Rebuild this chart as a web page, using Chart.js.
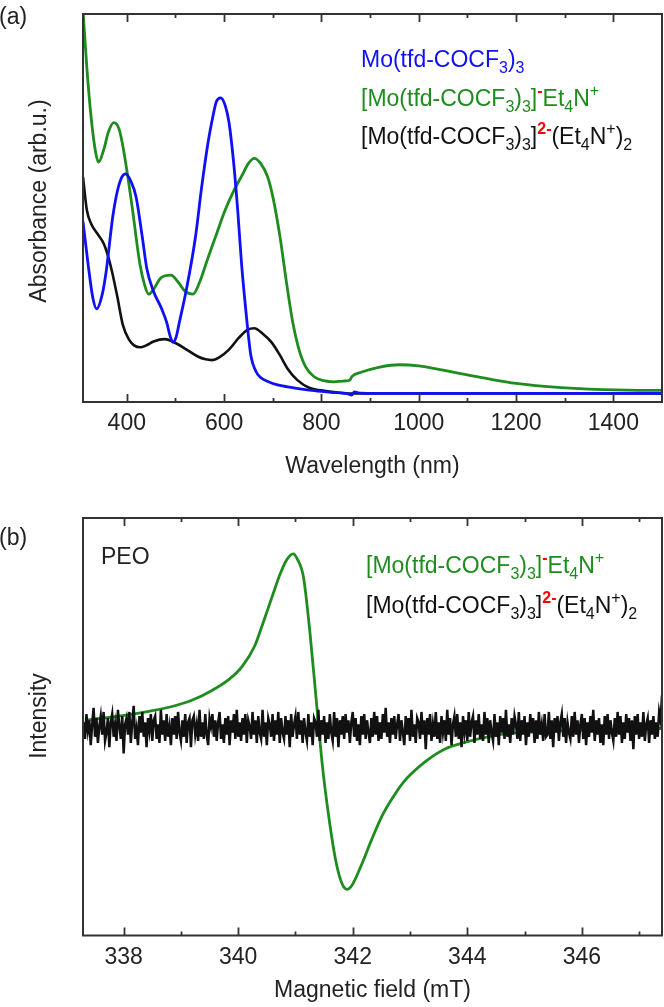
<!DOCTYPE html>
<html>
<head>
<meta charset="utf-8">
<script src="https://cdn.jsdelivr.net/npm/chart.js@4.4.1/dist/chart.umd.min.js"></script>
<style>
  html, body { margin: 0; padding: 0; background: #fff; }
  #wrap { position: relative; width: 664px; height: 1007px; }
  canvas { position: absolute; left: 0; }
  #uv { top: 0; width: 664px; height: 490px; }
  #epr { top: 490px; width: 664px; height: 517px; }
</style>
</head>
<body>
<div id="wrap">
  <canvas id="uv" width="664" height="490"></canvas>
  <canvas id="epr" width="664" height="517"></canvas>
</div>
<script>
// ---- (a) absorption spectra, arb. units (0 = bottom frame, 100 = top frame)
const neutralNm  = [310, 320, 330, 338, 350, 358, 371, 380, 390, 398, 408, 419, 432, 441, 454, 471, 482, 489, 495, 501, 508, 523, 541, 554, 567, 576, 584, 593, 602, 610, 619, 628, 636, 645, 655, 665, 675, 690, 710, 740, 780, 820, 855, 862, 868, 880, 950, 1100, 1300, 1500];
const neutralAbs = [46.5, 36, 27, 24, 28, 34, 47.6, 54, 58, 58.8, 57, 52.9, 42.4, 34.5, 28.8, 24.2, 20.5, 17, 15.4, 16.6, 20.5, 29.3, 42.4, 55.5, 66.9, 73, 77.4, 78.4, 76.5, 72.1, 62.5, 49.4, 35.4, 23.2, 12, 8, 6.3, 5.3, 4.4, 3.7, 3.0, 2.5, 2.1, 1.8, 2.6, 2.3, 2.2, 2.2, 2.2, 2.2];

const monoNm  = [310, 318, 327, 336, 342, 353, 362, 373, 384, 393, 410, 427, 437, 445, 455, 470, 491, 505, 520, 536, 550, 567, 585, 602, 620, 636, 650, 662, 675, 689, 700, 715, 728, 741, 754, 767, 785, 805, 825, 845, 858, 863, 880, 920, 960, 1000, 1050, 1100, 1150, 1200, 1293, 1350, 1450, 1500];
const monoAbs = [101, 86, 73, 64.3, 61.8, 65.2, 69.5, 72, 70.4, 65.2, 51.2, 35.5, 30, 27.8, 29, 32, 32.7, 31, 28.5, 27.8, 31, 37.2, 43.5, 49.4, 54.5, 58.2, 61.5, 62.8, 61.5, 58.2, 53, 42.5, 31, 20.6, 13.5, 9.2, 6.5, 5.5, 5.2, 5.4, 5.6, 6.6, 7.6, 9.0, 9.6, 9.3, 8.2, 7.0, 5.8, 4.8, 3.7, 3.3, 3.0, 3.0];

const diNm  = [310, 318, 327, 340, 353, 366, 380, 392, 405, 415, 428, 440, 455, 478, 500, 523, 545, 562, 575, 590, 610, 630, 648, 662, 680, 698, 715, 732, 750, 776, 800, 830, 855, 900, 1100, 1300, 1500];
const diAbs = [58, 49.4, 45.9, 43.3, 40.7, 35.5, 27.5, 19.8, 16, 14.6, 14.1, 14.6, 15.6, 16.2, 15.2, 13.5, 11.8, 11, 10.8, 11.5, 13.5, 16.5, 18.6, 19, 17.5, 15.3, 12, 8.3, 5.7, 3.6, 3.0, 2.5, 2.2, 2.2, 2.2, 2.2, 2.2];

const waveTicks = [400, 600, 800, 1000, 1200, 1400];
const waveMinor = [500, 700, 900, 1100, 1300];

// ---- (b) EPR, first derivative, arb. units
const eprMonoField = [337.33, 337.70, 338.07, 338.44, 338.81, 339.18, 339.55, 339.84, 340.07, 340.29, 340.44, 340.59, 340.73, 340.84, 340.96, 341.03, 341.14, 341.25, 341.36, 341.47, 341.58, 341.70, 341.81, 341.90, 341.99, 342.14, 342.33, 342.51, 342.70, 342.88, 343.25, 343.62, 343.99, 344.36, 344.73, 345.47, 346.21, 347.40];
const eprMonoInt   = [0.041, 0.052, 0.066, 0.083, 0.104, 0.135, 0.185, 0.237, 0.300, 0.400, 0.515, 0.635, 0.745, 0.812, 0.844, 0.82, 0.731, 0.471, 0.146, -0.179, -0.423, -0.634, -0.748, -0.777, -0.756, -0.667, -0.537, -0.423, -0.333, -0.261, -0.164, -0.098, -0.065, -0.041, -0.024, -0.013, -0.007, 0.0];

// dianion trace: flat noise, sampled every 0.025 mT from 337.30 mT
const eprDiStart = 337.30;
const eprDiStep = 0.025;
const eprDiInt = [
  0.03, -0.05, 0.07, -0.01, 0.04, -0.08, 0.02, 0.10, -0.04, 0.05, -0.07, 0.01, 0.06, -0.03, 0.08, -0.06, -0.02, 0.05, -0.09, 0.03,
  0.07, -0.04, 0.02, -0.06, 0.09, 0.01, -0.05, 0.06, -0.12, 0.02, 0.05, -0.03, 0.08, -0.07, 0.03, 0.11, -0.05, 0.00, -0.08, 0.06,
  -0.02, 0.08, -0.04, 0.03, -0.09, 0.05, -0.01, 0.07, -0.06, 0.04, 0.06, -0.05, 0.02, -0.07, 0.09, -0.03, 0.04, -0.06, 0.07, -0.04,
  0.01, -0.08, 0.05, -0.03, 0.06, -0.05, 0.08, -0.02, -0.06, 0.04, -0.04, 0.07, -0.07, 0.03, 0.05, -0.09, 0.04, 0.06, -0.03, 0.02,
  -0.06, 0.09, -0.04, 0.03, -0.05, 0.07, -0.03, -0.08, 0.05, 0.01, 0.07, -0.04, 0.04, -0.06, 0.03, 0.08, -0.05, 0.02, -0.07, 0.05,
  -0.03, 0.06, -0.08, 0.04, -0.02, 0.07, -0.05, 0.09, -0.04, 0.03, -0.06, 0.05, -0.03, 0.07, -0.07, 0.04, 0.01, -0.05, 0.08, -0.03,
  0.04, -0.07, 0.06, -0.02, -0.05, 0.09, -0.04, 0.03, -0.08, 0.05, 0.02, -0.04, 0.07, -0.06, 0.04, -0.03, 0.08, -0.07, 0.05, -0.02,
  -0.05, 0.06, -0.03, 0.04, -0.09, 0.07, -0.04, 0.02, 0.06, -0.05, 0.08, -0.03, 0.04, -0.07, 0.05, -0.02, -0.06, 0.07, -0.04, 0.03,
  -0.08, 0.05, 0.03, -0.04, 0.09, -0.06, 0.04, -0.03, 0.06, -0.07, 0.03, -0.05, 0.07, -0.02, -0.06, 0.08, -0.04, 0.05, -0.09, 0.04,
  -0.03, 0.06, -0.05, 0.07, -0.02, 0.04, -0.07, 0.03, 0.08, -0.04, 0.05, -0.06, 0.02, -0.08, 0.06, -0.03, 0.07, -0.05, 0.04, -0.02,
  -0.07, 0.05, -0.04, 0.08, -0.03, 0.06, -0.06, 0.03, -0.05, 0.07, -0.02, 0.10, -0.04, 0.03, -0.07, 0.05, -0.03, 0.06, -0.05, 0.02,
  0.07, -0.06, 0.04, -0.02, -0.08, 0.06, -0.03, 0.05, -0.06, 0.09, -0.04, 0.02, -0.07, 0.05, 0.03, -0.05, 0.08, -0.03, 0.04, -0.10,
  0.05, -0.03, 0.07, -0.06, 0.02, -0.04, 0.08, -0.05, 0.03, -0.07, 0.06, -0.02, 0.04, -0.06, 0.09, -0.03, 0.05, -0.08, 0.02, 0.06,
  -0.04, 0.07, -0.05, 0.03, -0.09, 0.06, -0.02, 0.04, -0.06, 0.08, -0.04, 0.03, 0.06, -0.07, 0.04, -0.03, 0.07, -0.05, 0.02, -0.06,
  0.08, -0.03, 0.05, -0.07, 0.04, -0.02, -0.06, 0.07, -0.04, 0.03, -0.08, 0.06, -0.02, 0.05, -0.05, 0.09, -0.04, 0.02, -0.07, 0.05,
  -0.03, 0.06, 0.02, -0.05, 0.08, -0.06, 0.04, -0.03, 0.06, -0.08, 0.03, -0.04, 0.07, -0.02, 0.05, -0.07, 0.04, -0.05, 0.08, -0.03,
  0.02, -0.06, 0.07, -0.04, -0.03, 0.08, -0.05, 0.04, -0.09, 0.05, -0.02, 0.06, -0.06, 0.03, 0.07, -0.04, 0.05, -0.07, 0.03, -0.02,
  -0.05, 0.06, -0.04, 0.08, -0.03, 0.04, -0.07, 0.02, 0.07, -0.05, 0.05, -0.08, 0.03, -0.04, 0.06, -0.02, 0.09, -0.06, 0.04, -0.03,
  0.05, -0.07, 0.02, -0.08, 0.06, -0.03, 0.07, -0.05, 0.04, -0.02, -0.06, 0.05, -0.04, 0.08, -0.03, 0.06, -0.07, 0.03, -0.05, 0.07,
  -0.02, 0.05, -0.06, 0.04, -0.10, 0.06, -0.03, 0.07, -0.05, 0.03, -0.04, 0.08, -0.06, 0.02, 0.05, -0.07, 0.04, -0.03, 0.06, -0.05,
  0.03, -0.04, 0.08, 0.04, 0.16
];

const fieldTicks = [338, 340, 342, 344, 346];
const fieldMinor = [339, 341, 343, 345, 347];

const BLUE = '#1010f5';
const GREEN = '#1f8c1f';
const BLACK = '#111111';
const RED = '#ff0000';
const TXT = '#222222';
const FONT = '"Liberation Sans", Arial, sans-serif';

function pts(xs, ys) {
  return xs.map((x, i) => ({ x: x, y: ys[i] }));
}

// rich text (sub / superscripts)
function drawRich(ctx, x, y, segs) {
  ctx.textBaseline = 'alphabetic';
  ctx.textAlign = 'left';
  for (const s of segs) {
    const small = s.k === 'sub' || s.k === 'sup';
    ctx.font = (s.b ? 'bold ' : '') + (small ? 16 : 23) + 'px ' + FONT;
    ctx.fillStyle = s.c;
    const dy = s.k === 'sub' ? 6 : s.k === 'sup' ? -10 : 0;
    ctx.fillText(s.t, x, y + dy);
    x += ctx.measureText(s.t).width;
  }
}

function monoLabel(c) {
  return [
    { t: '[Mo(tfd-COCF', c: c }, { t: '3', k: 'sub', c: c }, { t: ')', c: c }, { t: '3', k: 'sub', c: c },
    { t: ']', c: c }, { t: '-', k: 'sup', c: RED, b: true }, { t: 'Et', c: c }, { t: '4', k: 'sub', c: c },
    { t: 'N', c: c }, { t: '+', k: 'sup', c: c }
  ];
}
function diLabel(c) {
  return [
    { t: '[Mo(tfd-COCF', c: c }, { t: '3', k: 'sub', c: c }, { t: ')', c: c }, { t: '3', k: 'sub', c: c },
    { t: ']', c: c }, { t: '2-', k: 'sup', c: RED, b: true }, { t: '(Et', c: c }, { t: '4', k: 'sub', c: c },
    { t: 'N', c: c }, { t: '+', k: 'sup', c: c }, { t: ')', c: c }, { t: '2', k: 'sub', c: c }
  ];
}

// frame, inward ticks (bottom and top) and annotation text
const framePlugin = {
  id: 'frame',
  afterDraw(chart, args, opts) {
    const ctx = chart.ctx;
    const a = chart.chartArea;
    const xs = chart.scales.x;
    ctx.save();
    ctx.strokeStyle = '#333';
    ctx.lineWidth = 2;
    ctx.strokeRect(a.left, a.top, a.right - a.left, a.bottom - a.top);
    ctx.lineWidth = 1.8;
    const tick = (v, len) => {
      const px = Math.round(xs.getPixelForValue(v)) + 0.5;
      ctx.beginPath();
      ctx.moveTo(px, a.bottom); ctx.lineTo(px, a.bottom - len);
      ctx.moveTo(px, a.top); ctx.lineTo(px, a.top + len);
      ctx.stroke();
    };
    opts.major.forEach(v => tick(v, 8));
    opts.minor.forEach(v => tick(v, 4));
    ctx.font = '23px ' + FONT;
    ctx.fillStyle = TXT;
    ctx.textBaseline = 'alphabetic';
    ctx.fillText(opts.panel, -1, opts.panelY);
    if (opts.note) ctx.fillText(opts.note, opts.noteX, opts.noteY);
    // y axis title
    ctx.save();
    ctx.translate(40, opts.yTitleY);
    ctx.rotate(-Math.PI / 2);
    ctx.textAlign = 'center';
    ctx.textBaseline = 'middle';
    ctx.fillText(opts.yTitle, 0, 0);
    ctx.restore();
    opts.legend.forEach((segs, i) => drawRich(ctx, opts.legX, opts.legY + i * opts.legGap, segs));
    ctx.restore();
  }
};

function axisX(min, max, ticks, title, tickPad, titlePad, height) {
  return {
    type: 'linear', min: min, max: max,
    grid: { display: false, drawTicks: false },
    border: { display: false },
    afterBuildTicks: (s) => { s.ticks = ticks.map(v => ({ value: v })); },
    afterFit: (s) => { s.height = height; },
    ticks: {
      font: { family: FONT, size: 23 }, color: TXT, padding: tickPad, maxRotation: 0, autoSkip: false,
      callback: (v) => String(v)
    },
    title: { display: true, text: title, font: { family: FONT, size: 23 }, color: TXT, padding: titlePad }
  };
}
function axisY(min, max) {
  return {
    min: min, max: max,
    grid: { display: false, drawTicks: false },
    border: { display: false },
    ticks: { display: false },
    afterFit: (s) => { s.width = 75; }
  };
}

Chart.defaults.font.family = FONT;

new Chart(document.getElementById('uv'), {
  type: 'line',
  data: {
    datasets: [
      { data: pts(neutralNm, neutralAbs), borderColor: BLUE, borderWidth: 2.8 },
      { data: pts(monoNm, monoAbs), borderColor: GREEN, borderWidth: 2.8 },
      { data: pts(diNm, diAbs), borderColor: BLACK, borderWidth: 2.6 }
    ]
  },
  options: {
    responsive: false,
    animation: false,
    layout: { padding: { left: 8, top: 14, right: 2, bottom: 0 } },
    elements: { point: { radius: 0 }, line: { cubicInterpolationMode: 'monotone' } },
    plugins: {
      legend: { display: false }, tooltip: { enabled: false },
      frame: {
        major: waveTicks, minor: waveMinor, panel: '(a)', panelY: 24,
        yTitle: 'Absorbance (arb.u.)', yTitleY: 201,
        legX: 361, legY: 67, legGap: 38.5,
        legend: [
          [{ t: 'Mo(tfd-COCF', c: BLUE }, { t: '3', k: 'sub', c: BLUE }, { t: ')', c: BLUE }, { t: '3', k: 'sub', c: BLUE }],
          monoLabel(GREEN),
          diLabel(BLACK)
        ]
      }
    },
    scales: {
      x: axisX(310, 1500, waveTicks, 'Wavelength (nm)', 8, 10, 88),
      y: axisY(0, 100)
    }
  },
  plugins: [framePlugin]
});

const eprDiPts = eprDiInt.map((v, i) => ({ x: eprDiStart + i * eprDiStep, y: v }));

new Chart(document.getElementById('epr'), {
  type: 'line',
  data: {
    datasets: [
      { data: eprDiPts, borderColor: BLACK, borderWidth: 2.5, tension: 0 },
      { data: pts(eprMonoField, eprMonoInt), borderColor: GREEN, borderWidth: 2.8, cubicInterpolationMode: 'monotone' }
    ]
  },
  options: {
    responsive: false,
    animation: false,
    layout: { padding: { left: 8, top: 28, right: 2, bottom: 0 } },
    elements: { point: { radius: 0 } },
    plugins: {
      legend: { display: false }, tooltip: { enabled: false },
      frame: {
        major: fieldTicks, minor: fieldMinor, panel: '(b)', panelY: 55,
        note: 'PEO', noteX: 101, noteY: 74,
        yTitle: 'Intensity', yTitleY: 226,
        legX: 366, legY: 83, legGap: 39.5,
        legend: [monoLabel(GREEN), diLabel(BLACK)]
      }
    },
    scales: {
      x: axisX(337.29, 347.4, fieldTicks, 'Magnetic field (mT)', 8, 3, 71.5),
      y: axisY(-1, 1.017)
    }
  },
  plugins: [framePlugin]
});
</script>
</body>
</html>
